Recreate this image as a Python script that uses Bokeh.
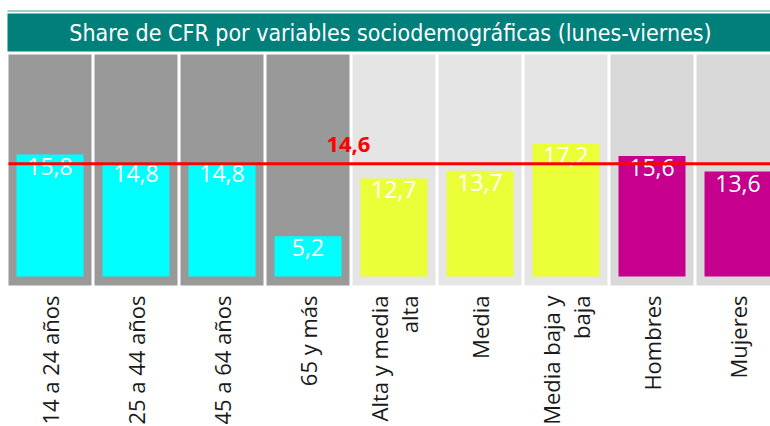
import math
from bokeh.plotting import figure
from bokeh.models import Range1d, ColumnDataSource
from bokeh.core.properties import value
from bokeh.embed import file_html
from bokeh.resources import INLINE

# ---- data ----
title_text = "Share de CFR por variables sociodemográficas (lunes-viernes)"
categories = ["14 a 24 años", "25 a 44 años", "45 a 64 años", "65 y más",
              "Alta y media\nalta", "Media", "Media baja y\nbaja",
              "Hombres", "Mujeres"]
values = [15.8, 14.8, 14.8, 5.2, 12.7, 13.7, 17.2, 15.6, 13.6]
groups = ["edad", "edad", "edad", "edad", "clase", "clase", "clase", "sexo", "sexo"]
mean_value = 14.6

# ---- styles ----
bar_colors = {"edad": "#00ffff", "clase": "#eaff38", "sexo": "#c6008c"}
panel_colors = {"edad": "#999999", "clase": "#e5e5e5", "sexo": "#d9d9d9"}
TEAL = "#007f7b"
TITLE_FONT = value("DejaVu Sans Condensed, Roboto, sans-serif")

# ---- layout constants (pixels) ----
W, H = 770, 426
BASE_PX = 276.0      # canvas y of value 0
PX_PER_UNIT = 7.72
COL_PX = 86.0
X0_PX = 49.5


def ydata(py):
    return (BASE_PX - py) / PX_PER_UNIT


def xdata(px):
    return (px - X0_PX) / COL_PX


x_start, x_end = xdata(0), xdata(W)

p = figure(width=W, height=H, output_backend="svg", toolbar_location=None,
           x_range=Range1d(x_start, x_end), y_range=Range1d(ydata(H), ydata(0)),
           min_border=0, min_border_left=0, min_border_right=0,
           min_border_top=0, min_border_bottom=0)
p.axis.visible = False
p.grid.visible = False
p.outline_line_color = None
p.background_fill_color = "white"
p.border_fill_color = "white"

n = len(values)
xs = list(range(n))
half_panel = 41.5 / COL_PX

panel_src = ColumnDataSource(dict(
    left=[x - half_panel for x in xs],
    right=[x + half_panel for x in xs],
    color=[panel_colors[g] for g in groups],
))
p.quad(left="left", right="right", top=ydata(54), bottom=ydata(285),
       fill_color="color", line_color=None, source=panel_src)

# title bar
p.quad(left=[xdata(7)], right=[x_end + 0.1], top=[ydata(13)], bottom=[ydata(51)],
       fill_color=TEAL, line_color=None)
p.segment(x0=[xdata(7)], x1=[x_end + 0.1], y0=[ydata(10.5)], y1=[ydata(10.5)],
          line_color="#80bfbd", line_width=1.5)
p.text(x=[xdata(390)], y=[ydata(32)], text=[title_text],
       text_font=TITLE_FONT, text_font_size="23px",
       text_color="white", text_align="center", text_baseline="middle")

bar_src = ColumnDataSource(dict(
    x=xs, top=values,
    color=[bar_colors[g] for g in groups],
    label=[("%.1f" % v).replace(".", ",") for v in values],
    cat=categories,
))
p.vbar(x="x", top="top", bottom=0, width=67 / COL_PX,
       fill_color="color", line_color=None, source=bar_src)

p.text(x="x", y="top", text="label", source=bar_src,
       text_font=value("Open Sans"), text_font_size="23px",
       text_color="white", text_align="center", text_baseline="top",
       y_offset=3)

# category labels (rotated)
p.text(x="x", y=ydata(295), text="cat", source=bar_src, angle=math.pi / 2,
       text_font=value("Open Sans"), text_font_size="22px",
       text_color="#1a1a1a", text_align="right", text_baseline="middle",
       text_line_height=1.0)

# mean line and label
p.segment(x0=[xdata(8)], x1=[x_end + 0.1], y0=[mean_value], y1=[mean_value],
          line_color="#ff0000", line_width=3)
p.text(x=[3.47], y=[mean_value], text=[("%.1f" % mean_value).replace(".", ",")],
       text_font=value("Open Sans"), text_font_size="22px", text_font_style="bold",
       text_color="#ff0000", text_align="center", text_baseline="middle",
       y_offset=-19)

open("out.html", "w").write(file_html(p, INLINE))
